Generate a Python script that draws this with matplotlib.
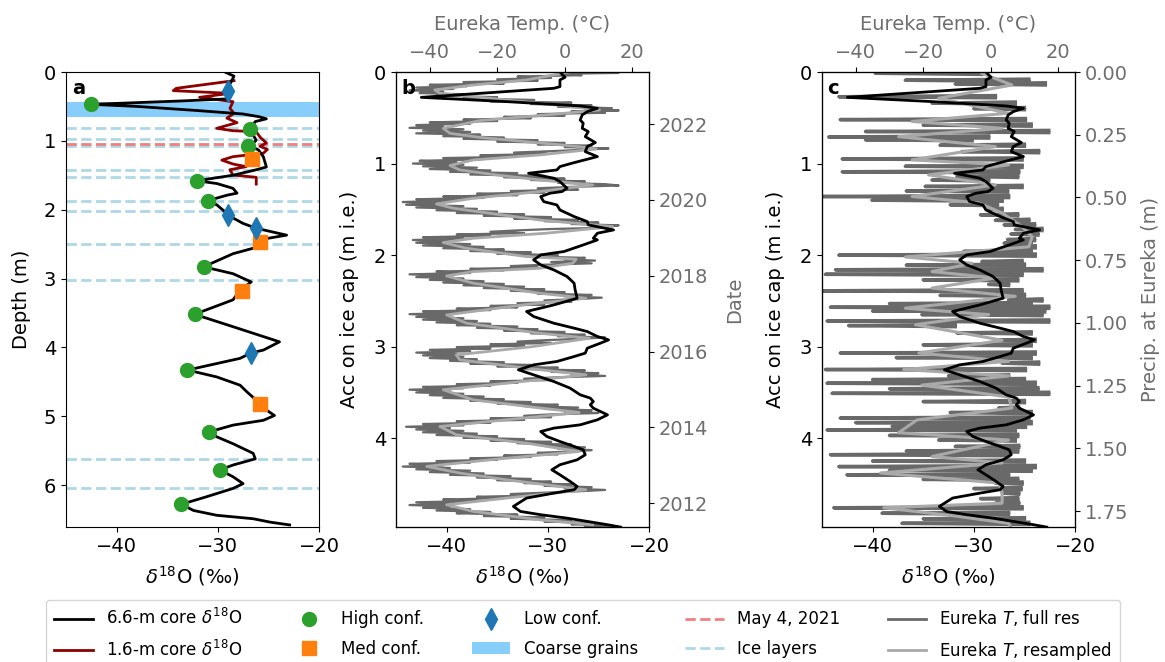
import numpy as np
import matplotlib
matplotlib.use('Agg')
import matplotlib.pyplot as plt
from matplotlib.lines import Line2D
from matplotlib.patches import Patch

plt.rcParams['font.family'] = ['DejaVu Sans']
plt.rcParams['font.size'] = 14

# ---------------- Panel a data ----------------
core66_depth = [0.00, 0.06, 0.12, 0.20, 0.30, 0.39, 0.42, 0.47, 0.50, 0.56, 0.61, 0.65, 0.68, 0.72, 0.79,
                0.83, 0.92, 0.99, 1.08, 1.13, 1.23, 1.38, 1.42, 1.50, 1.58, 1.62, 1.69, 1.76, 1.79, 1.87,
                1.93, 2.03, 2.08, 2.20, 2.27, 2.37, 2.42, 2.54, 2.64, 2.83, 2.93, 3.05, 3.17, 3.31, 3.52,
                3.70, 3.92, 4.04, 4.08, 4.16, 4.33, 4.43, 4.55, 4.65, 4.82, 4.91, 4.99, 5.06, 5.13, 5.23,
                5.30, 5.40, 5.54, 5.62, 5.71, 5.78, 5.88, 5.98, 6.05, 6.17, 6.28, 6.37, 6.44, 6.49, 6.54, 6.58]
core66_d18o = [-29.3, -28.4, -28.6, -28.9, -29.0, -28.9, -33.5, -42.5, -38.0, -32.0, -27.5, -25.9, -25.2, -26.3, -26.6,
               -26.8, -26.5, -26.2, -26.8, -26.0, -25.5, -25.2, -26.2, -28.5, -32.1, -30.1, -28.5, -28.1, -29.1, -31.0,
               -30.1, -29.3, -29.0, -27.5, -26.2, -23.2, -25.2, -26.0, -28.5, -31.4, -28.5, -26.7, -27.8, -28.5, -32.3,
               -28.5, -23.9, -25.5, -26.7, -27.8, -33.0, -30.1, -27.8, -27.1, -25.8, -25.2, -24.4, -25.5, -28.5, -30.9,
               -30.1, -28.5, -26.5, -26.3, -28.5, -29.8, -28.5, -27.5, -28.5, -31.1, -33.6, -32.4, -30.1, -26.5, -24.8, -22.9]

core16_depth = [0.126, 0.237, 0.271, 0.31, 0.368, 0.431, 0.528, 0.60, 0.67, 0.736, 0.818, 0.853, 0.868, 0.95,
                1.03, 1.08, 1.125, 1.18, 1.23, 1.28, 1.337, 1.375, 1.42, 1.497, 1.53, 1.628]
core16_d18o = [-28.4, -34.1, -34.4, -28.8, -31.8, -28.5, -28.8, -28.4, -29.1, -28.1, -30.1, -28.5, -26.2, -25.8,
               -25.2, -25.8, -25.1, -25.5, -28.5, -29.6, -28.5, -27.2, -28.8, -28.5, -26.2, -26.2]

high_depth = [0.47, 0.83, 1.08, 1.58, 1.87, 2.83, 3.52, 4.33, 5.23, 5.78, 6.28]
high_d18o = [-42.5, -26.8, -27.0, -32.1, -31.0, -31.4, -32.3, -33.0, -30.9, -29.8, -33.6]
med_depth = [1.27, 2.47, 3.18, 4.83]
med_d18o = [-26.65, -25.8, -27.6, -25.8]
low_depth = [0.28, 2.08, 2.27, 4.08]
low_d18o = [-29.0, -29.0, -26.2, -26.7]

ice_layers = [0.82, 0.98, 1.07, 1.42, 1.52, 1.875, 2.02, 2.495, 3.02, 5.62, 6.05]
may4_2021_depth = 1.04
coarse_grains = (0.441, 0.649)

# ---------------- Panels b/c: d18O vs accumulation (m i.e.) ----------------
acc_depth = [0.0, 0.058, 0.087, 0.16, 0.178, 0.277, 0.324, 0.371, 0.396, 0.433, 0.469, 0.524, 0.56, 0.615,
             0.651, 0.706, 0.771, 0.815, 0.87, 0.924, 0.953, 0.99, 1.033, 1.07, 1.106, 1.16, 1.197, 1.27,
             1.306, 1.324, 1.361, 1.416, 1.452, 1.507, 1.579, 1.634, 1.67, 1.725, 1.761, 1.816, 1.834, 1.889,
             1.961, 1.998, 2.052, 2.107, 2.162, 2.234, 2.307, 2.38, 2.471, 2.544, 2.616, 2.671, 2.744, 2.798,
             2.835, 2.889, 2.926, 2.962, 3.017, 3.071, 3.108, 3.162, 3.199, 3.253, 3.308, 3.381, 3.453, 3.526,
             3.562, 3.599, 3.635, 3.672, 3.745, 3.799, 3.854, 3.89, 3.927, 3.981, 4.036, 4.09, 4.127, 4.181,
             4.236, 4.29, 4.345, 4.4, 4.472, 4.527, 4.563, 4.6, 4.654, 4.745, 4.8, 4.836, 4.873, 4.909, 4.945, 4.971]
acc_d18o = [-28.8, -28.3, -28.8, -28.8, -29.4, -42.5, -34.0, -26.8, -25.1, -26.1, -26.6, -26.8, -26.5, -26.6,
            -26.0, -26.3, -25.3, -26.1, -26.3, -25.1, -26.1, -27.4, -28.8, -29.1, -31.9, -29.4, -28.8, -28.1,
            -28.6, -29.8, -30.7, -30.4, -29.1, -28.8, -27.4, -26.1, -26.0, -23.5, -25.1, -25.5, -25.1, -26.5,
            -28.4, -30.7, -31.4, -30.7, -29.4, -28.1, -27.4, -27.3, -27.1, -29.4, -32.1, -31.4, -29.4, -27.4,
            -26.1, -25.1, -24.0, -24.8, -26.1, -26.3, -27.4, -29.1, -31.4, -32.9, -31.4, -29.4, -27.8, -26.8,
            -25.8, -25.5, -25.8, -25.5, -24.1, -25.1, -26.8, -29.4, -30.7, -30.1, -28.8, -27.4, -26.5, -26.3,
            -27.1, -28.8, -29.6, -28.8, -27.8, -27.1, -27.4, -29.4, -32.1, -33.4, -32.7, -30.7, -28.1, -26.1, -24.1, -22.8]

# Eureka temperature, full resolution, vs accumulation (panel b)
b_full_depth = [
    0.000, 0.010, 0.020, 0.035, 0.050, 0.065, 0.080, 0.095, 0.110, 0.125, 0.140, 0.155, 0.170, 0.185, 0.200,
    0.215, 0.230, 0.245, 0.260, 0.275, 0.290, 0.305, 0.320, 0.335, 0.350, 0.365, 0.380, 0.395, 0.410, 0.420,
    0.430, 0.445, 0.460, 0.475, 0.490, 0.505, 0.520, 0.535, 0.550, 0.565, 0.580, 0.595, 0.610, 0.625, 0.640,
    0.655, 0.670, 0.685, 0.700, 0.715, 0.730, 0.745, 0.760, 0.775, 0.790, 0.805, 0.820, 0.835, 0.850,
    0.865, 0.880, 0.895, 0.910, 0.925, 0.940, 0.955, 0.970, 0.985, 1.000, 1.015, 1.030, 1.045, 1.060, 1.075,
    1.090, 1.105, 1.120, 1.135, 1.150, 1.165, 1.180, 1.195, 1.210, 1.225, 1.240,
    1.255, 1.270, 1.285, 1.300, 1.315, 1.330, 1.345, 1.360, 1.375, 1.390, 1.405, 1.420, 1.435, 1.450, 1.465,
    1.480, 1.495, 1.510, 1.525, 1.540, 1.555, 1.570, 1.585, 1.600, 1.615, 1.630, 1.645, 1.660, 1.675, 1.690, 1.700,
    1.715, 1.730, 1.745, 1.760, 1.775, 1.790, 1.805, 1.820, 1.835, 1.850, 1.865, 1.880, 1.895, 1.910, 1.925,
    1.940, 1.955, 1.970, 1.985, 2.000, 2.015, 2.030, 2.045, 2.060, 2.075, 2.090,
    2.105, 2.120, 2.135, 2.150, 2.165, 2.180, 2.195, 2.210, 2.225, 2.240, 2.255, 2.270, 2.285, 2.300, 2.315,
    2.330, 2.345, 2.360, 2.375, 2.390, 2.405, 2.420, 2.435, 2.450, 2.465, 2.480,
    2.495, 2.510, 2.525, 2.540, 2.555, 2.570, 2.585, 2.600, 2.615, 2.630, 2.645, 2.660, 2.675, 2.690, 2.705,
    2.720, 2.735, 2.750, 2.765, 2.780, 2.795, 2.810, 2.825, 2.840, 2.855, 2.870, 2.885, 2.900, 2.915,
    2.930, 2.945, 2.960, 2.975, 2.990, 3.005, 3.020, 3.035, 3.050, 3.065, 3.080, 3.095, 3.110, 3.125, 3.140,
    3.155, 3.170, 3.185, 3.200, 3.215, 3.230, 3.245, 3.260, 3.275, 3.290, 3.305, 3.320,
    3.335, 3.350, 3.365, 3.380, 3.395, 3.410, 3.425, 3.440, 3.455, 3.470, 3.485, 3.500, 3.515, 3.530, 3.545,
    3.560, 3.575, 3.590, 3.605, 3.620, 3.635, 3.650, 3.665, 3.680, 3.695, 3.710, 3.725,
    3.740, 3.755, 3.770, 3.785, 3.800, 3.815, 3.830, 3.845, 3.860, 3.875, 3.890, 3.905, 3.920, 3.935, 3.950,
    3.965, 3.980, 3.995, 4.010, 4.025, 4.040, 4.055, 4.070, 4.085, 4.100, 4.115, 4.130, 4.145,
    4.160, 4.175, 4.190, 4.205, 4.220, 4.235, 4.250, 4.265, 4.280, 4.295, 4.310, 4.325, 4.340, 4.355, 4.370,
    4.385, 4.400, 4.415, 4.430, 4.445, 4.460, 4.475, 4.490, 4.505, 4.520, 4.535, 4.550, 4.565, 4.580,
    4.595, 4.610, 4.625, 4.640, 4.655, 4.670, 4.685, 4.700, 4.715, 4.730, 4.745, 4.760, 4.775, 4.790, 4.805,
    4.820, 4.835, 4.850, 4.865, 4.880, 4.895, 4.910, 4.925, 4.940, 4.955, 4.970]
b_full_temp = [
    8, 16, -2, 5, -14, -4, -20, -8, -30, -18, -40, -29, -44, -33, -46,
    -36, -43, -28, -38, -20, -30, -9, -22, 2, -10, 8, -2, 14, 6, 16,
    2, 12, -8, 0, -18, -10, -30, -20, -40, -28, -44, -36, -46, -30, -42,
    -28, -44, -25, -36, -18, -30, -8, -20, 0, -8, 8, 0, 13, 5,
    -4, -15, -5, -25, -14, -36, -25, -43, -32, -45, -30, -42, -26, -40, -22,
    -34, -14, -28, -6, -18, 0, -10, 6, -2, 12, 16,
    2, -8, 4, -16, -6, -26, -14, -36, -24, -44, -32, -48, -36, -47, -30,
    -44, -26, -38, -20, -32, -12, -24, -4, -15, 4, -6, 10, 2, 16, 8, 14,
    -4, -14, -22, -12, -32, -22, -42, -30, -45, -34, -44, -28, -42, -24, -36,
    -18, -28, -10, -20, -2, -10, 6, 0, 9, -4, 8,
    -6, -16, -8, -28, -18, -38, -28, -46, -34, -44, -30, -40, -24, -36, -18,
    -30, -12, -24, -6, -16, 0, -8, 8, 0, 11, 4,
    -6, 2, -14, -6, -22, -14, -32, -22, -42, -30, -46, -34, -44, -30, -42,
    -26, -38, -22, -32, -14, -26, -8, -18, 0, -10, 6, -2, 12, 4,
    -6, -14, -4, -22, -12, -32, -22, -40, -28, -44, -32, -42, -30, -40, -26,
    -34, -18, -28, -10, -20, -2, -12, 6, -4, 10, 2, 12,
    -2, -12, -4, -22, -14, -32, -22, -42, -30, -46, -34, -44, -30, -40, -24,
    -36, -18, -28, -10, -20, -2, -12, 4, -6, 8, 0, 10,
    -4, -12, -4, -22, -12, -32, -22, -42, -30, -47, -34, -44, -30, -42, -26,
    -38, -20, -30, -12, -22, -4, -14, 2, -6, 6, -2, 8, 2,
    -8, -2, -18, -10, -28, -20, -38, -28, -46, -36, -48, -34, -44, -28, -40,
    -24, -34, -16, -26, -10, -20, -4, -12, 2, -6, 8, 0, 12, 4,
    -6, -16, -8, -26, -18, -36, -26, -44, -32, -46, -34, -42, -28, -38, -22,
    -32, -14, -24, -6, -16, 2, -6, 8, 2, 14, 6]

# Eureka temperature, resampled (panel b)
b_res_depth = [0.0, 0.087, 0.142, 0.196, 0.233, 0.251, 0.306, 0.36, 0.415, 0.469, 0.531, 0.615, 0.67, 0.714,
               0.761, 0.808, 0.84, 0.906, 0.961, 1.022, 1.07, 1.124, 1.179, 1.234, 1.306, 1.379, 1.441, 1.488,
               1.543, 1.616, 1.689, 1.761, 1.816, 1.863, 1.925, 2.016, 2.045, 2.089, 2.144, 2.18, 2.228, 2.307,
               2.416, 2.471, 2.544, 2.653, 2.744, 2.853, 2.908, 2.999, 3.09, 3.144, 3.235, 3.308, 3.399, 3.471,
               3.581, 3.661, 3.719, 3.799, 3.872, 3.963, 4.054, 4.145, 4.236, 4.308, 4.381, 4.454, 4.563, 4.654,
               4.727, 4.8, 4.891, 4.945]
b_res_temp = [1.4, -11.4, -27.1, -38.5, -37.0, -32.1, -17.3, -2.5, 10.3, -5.5, -25.2, -36.0, -34.0, -25.2,
              -11.4, 2.4, 9.3, -7.5, -27.1, -34.0, -31.1, -20.3, -7.5, 8.3, -7.5, -27.1, -38.0, -33.0,
              -22.2, -7.5, 14.2, -5.5, -27.1, -36.0, -29.1, -11.4, 3.4, 2.4, -7.5, -27.1, -35.0, -27.1,
              -7.5, 6.3, -12.4, -35.0, -29.1, -7.5, 7.3, -9.4, -32.1, -31.1, -11.4, 6.3, -17.3, -36.0,
              -27.1, -9.4, 4.3, -17.3, -37.0, -32.1, -11.4, 4.3, -22.2, -40.9, -31.1, -17.3, 6.3, -17.3,
              -35.0, -27.1, -7.5, 8.3]

# Eureka temperature, full resolution, vs precipitation (panel c):
# each dry spell spans a range of temperatures at one accumulation level
c_spell_depth = [0.014, 0.09, 0.13, 0.27, 0.34, 0.52, 0.65, 0.71, 0.74, 0.87, 0.95, 1.03, 1.09, 1.18, 1.25,
                 1.36, 1.40, 1.50, 1.62, 1.72, 1.83, 1.91, 2.00, 2.07, 2.16, 2.21, 2.32, 2.39, 2.49, 2.57,
                 2.65, 2.72, 2.77, 2.85, 2.93, 3.07, 3.18, 3.25, 3.32, 3.40, 3.51, 3.67, 3.78, 3.87, 3.91,
                 4.02, 4.09, 4.18, 4.31, 4.40, 4.49, 4.60, 4.71, 4.76, 4.82, 4.93]
c_spell_low = [-34.2, -25.3, -10.5, -45.0, -17.4, -44.6, -37.1, -48.0, -37.1, -8.5, -44.0, -25.3, -44.0, -17.4, -19.4,
               -50.0, -35.2, -0.6, 1.4, 7.3, 5.0, 5.3, -45.0, -2.6, -46.0, -49.0, -0.6, -50.0, 5.3, -47.5,
               -20.4, -48.5, -42.1, -10.0, 1.4, -44.6, 3.4, -49.0, -12.5, -48.5, -47.0, 2.4, -44.6, -29.2, -48.5,
               -15.4, -10.5, -47.5, -45.0, -42.6, 1.4, 3.4, 1.4, -46.5, -32.2, -26.3]
c_spell_high = [-2.6, 11.3, 16.2, 1.4, 7.3, 10.3, 17.2, -0.6, -5.5, 14.2, 9.3, 9.3, 8.3, -0.6, 9.3,
                5.3, 3.4, 3.4, 11.3, 15.2, 13.0, 13.2, 13.2, 9.3, 15.2, 9.3, 5.3, 9.3, 15.2, 17.2,
                15.2, 17.2, -10.5, 12.0, 13.2, 13.2, 14.2, 10.3, 5.3, 13.2, 17.2, 8.3, 11.3, 10.3, 7.3,
                7.3, 8.3, 5.3, 13.2, 5.3, 9.3, 8.3, 8.3, 9.3, 5.3, 11.3]
# shorter spells in between
c_minor_depth = [0.40, 0.58, 0.80, 1.14, 1.30, 1.45, 1.56, 1.67, 1.77, 1.87, 1.96, 2.11, 2.27, 2.44, 2.53,
                 2.61, 2.98, 3.12, 3.36, 3.46, 3.60, 3.72, 3.83, 3.97, 4.14, 4.25, 4.35, 4.45, 4.55, 4.66, 4.88]
c_minor_low = [-5, -20, -15, -10, -25, -12, -3, 4, 6, 4, -8, -25, -20, -15, -30,
               -35, -20, -28, -35, -30, -20, -12, -40, -30, -25, -35, -30, -20, -5, -3, -20]
c_minor_high = [10, 12, 10, 8, 5, 2, 8, 13, 14, 12, 12, 10, 8, 10, 12,
                16, 12, 12, 10, 14, 10, 12, 12, 8, 8, 10, 12, 8, 9, 8, 10]

# Eureka temperature, resampled (panel c)
c_res_depth = [0.014, 0.142, 0.287, 0.45, 0.54, 0.615, 0.706, 0.815, 0.96, 1.015, 1.124, 1.233, 1.36, 1.43,
               1.54, 1.69, 1.80, 1.91, 2.02, 2.09, 2.18, 2.25, 2.36, 2.45, 2.58, 2.65, 2.76, 2.93, 3.07,
               3.16, 3.25, 3.32, 3.42, 3.55, 3.67, 3.80, 3.94, 4.02, 4.20, 4.27, 4.38, 4.49, 4.60, 4.71,
               4.76, 4.85, 4.93, 4.97]
c_res_temp = [-2.6, 6.3, -15.4, 5.3, -23.3, 3.4, -27.3, 1.4, -23.3, 5.3, -18.4, 1.4, -23.3, -3.6,
              3.4, 9.3, 12.3, 11.3, -25.3, -5.5, -17.4, 1.4, -17.4, 7.3, -25.3, -0.6, -22.3, 3.4, -21.3,
              5.3, -25.8, 5.3, -20.4, 5.3, 6.3, -21.8, -27.3, 5.3, -17.4, 3.4, -32.7, 2.4, 3.4, 3.4,
              -31.7, -10.5, 5.3, 6.0]

date_ticks = [2012, 2014, 2016, 2018, 2020, 2022]
date_range = (2011.375, 2023.371)
precip_ticks = [0.00, 0.25, 0.50, 0.75, 1.00, 1.25, 1.50, 1.75]
precip_range = (1.813, 0.0)

# ---------------- Styling ----------------
C_BLACK = 'black'
C_BROWN = '#8b0000'
C_HIGH = '#2ca02c'
C_MED = '#ff7f0e'
C_LOW = '#1f77b4'
C_COARSE = '#87cefa'
C_MAY = '#f08080'
C_ICE = '#add8e6'
C_FULL = '#696969'
C_RES = '#a9a9a9'
C_GRAYTXT = '#6e6e6e'
SPELL_HALF_THICK = 0.012

fig = plt.figure(figsize=(11.65, 6.62), dpi=100)
W, H = 1165.0, 662.0


def rect(l, r, t, b):
    return [l / W, 1 - b / H, (r - l) / W, (b - t) / H]


d18_label = r'$\delta^{18}$O (‰)'

# ---- Panel a ----
axa = fig.add_axes(rect(66, 319, 72, 527))
axa.axhspan(coarse_grains[0], coarse_grains[1], color=C_COARSE, lw=0, zorder=1)
for d in ice_layers:
    axa.axhline(d, color=C_ICE, ls='--', lw=2, zorder=1.5)
axa.axhline(may4_2021_depth, color=C_MAY, ls='--', lw=2, zorder=1.6)
axa.plot(core16_d18o, core16_depth, color=C_BROWN, lw=2, zorder=2.5)
axa.plot(core66_d18o, core66_depth, color=C_BLACK, lw=2, zorder=3)
axa.plot(high_d18o, high_depth, 'o', color=C_HIGH, ms=10, zorder=4)
axa.plot(med_d18o, med_depth, 's', color=C_MED, ms=10, zorder=4)
axa.plot(low_d18o, low_depth, 'd', color=C_LOW, ms=11, zorder=4)
axa.set_xlim(-45, -20)
axa.set_ylim(6.61, 0)
axa.set_xticks([-40, -30, -20])
axa.set_yticks([0, 1, 2, 3, 4, 5, 6])
axa.set_xlabel(d18_label, labelpad=6)
axa.set_ylabel('Depth (m)', labelpad=9)
axa.text(0.025, 0.985, 'a', transform=axa.transAxes, ha='left', va='top', fontweight='bold', fontsize=14, zorder=6)


def iso_panel(left, label):
    ax = fig.add_axes(rect(left, left + 253, 72, 527))
    axt = ax.twiny()
    ax.set_zorder(axt.get_zorder() + 2)
    ax.patch.set_visible(False)
    axt.patch.set_visible(True)
    axt.patch.set_facecolor('white')
    ax.plot(acc_d18o, acc_depth, color=C_BLACK, lw=2, zorder=5)
    ax.set_xlim(-45, -20)
    ax.set_ylim(4.97, 0)
    ax.set_xticks([-40, -30, -20])
    ax.set_yticks([0, 1, 2, 3, 4])
    ax.set_xlabel(d18_label, labelpad=6)
    ax.set_ylabel('Acc on ice cap (m i.e.)', labelpad=11)
    axt.set_xlim(-50, 25)
    axt.set_xticks([-40, -20, 0, 20])
    axt.tick_params(axis='x', labelcolor=C_GRAYTXT)
    axt.set_xlabel('Eureka Temp. (°C)', color=C_GRAYTXT, labelpad=9.5)
    ax.text(0.02, 0.985, label, transform=ax.transAxes, ha='left', va='top', fontweight='bold', fontsize=14, zorder=6)
    return ax, axt


# ---- Panel b ----
axb, axbt = iso_panel(396, 'b')
axbt.plot(b_full_temp, b_full_depth, color=C_FULL, lw=1.6, zorder=1)
axbt.plot(b_res_temp, b_res_depth, color=C_RES, lw=2, zorder=2)
axbd = axb.twinx()
axbd.set_ylim(*date_range)
axbd.set_yticks(date_ticks)
axbd.tick_params(axis='y', labelcolor=C_GRAYTXT)
axbd.set_ylabel('Date', color=C_GRAYTXT, labelpad=12)

# ---- Panel c ----
axc, axct = iso_panel(822, 'c')
for d, lo, hi in zip(c_spell_depth + c_minor_depth, c_spell_low + c_minor_low, c_spell_high + c_minor_high):
    axct.plot([hi, lo, hi], [d - SPELL_HALF_THICK, d, d + SPELL_HALF_THICK],
              color=C_FULL, lw=2.5, zorder=1, solid_joinstyle='round')
axct.plot(c_res_temp, c_res_depth, color=C_RES, lw=2.2, zorder=2)
axcp = axc.twinx()
axcp.set_ylim(*precip_range)
axcp.set_yticks(precip_ticks)
axcp.tick_params(axis='y', labelcolor=C_GRAYTXT)
axcp.set_ylabel('Precip. at Eureka (m)', color=C_GRAYTXT, labelpad=9)

# ---- Legend ----
handles = [
    Line2D([], [], color=C_BLACK, lw=2, label=r'6.6-m core $\delta^{18}$O'),
    Line2D([], [], color=C_BROWN, lw=2, label=r'1.6-m core $\delta^{18}$O'),
    Line2D([], [], color=C_HIGH, marker='o', ls='', ms=10, label='High conf.'),
    Line2D([], [], color=C_MED, marker='s', ls='', ms=10, label='Med conf.'),
    Line2D([], [], color=C_LOW, marker='d', ls='', ms=11, label='Low conf.'),
    Patch(facecolor=C_COARSE, edgecolor='none', label='Coarse grains'),
    Line2D([], [], color=C_MAY, ls='--', lw=2, label='May 4, 2021'),
    Line2D([], [], color=C_ICE, ls='--', lw=2, label='Ice layers'),
    Line2D([], [], color=C_FULL, lw=2, label=r'Eureka $T$, full res'),
    Line2D([], [], color=C_RES, lw=2, label=r'Eureka $T$, resampled'),
]
fig.legend(handles=handles, ncol=5, loc='upper left', bbox_to_anchor=(46 / W, 1 - 600 / H),
           borderaxespad=0, fontsize=12, frameon=True, numpoints=1, columnspacing=2.85,
           handlelength=2.3, labelspacing=0.7, borderpad=0.5)

fig.savefig('out.png', dpi=100)
